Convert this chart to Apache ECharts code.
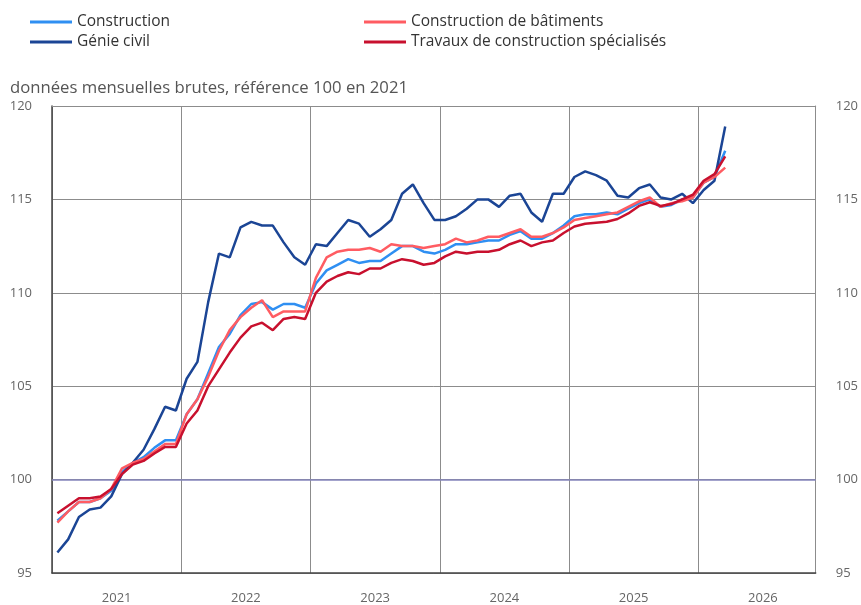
<!DOCTYPE html>
<html>
<head>
<meta charset="utf-8">
<script src="https://cdn.jsdelivr.net/npm/echarts@6/dist/echarts.min.js"></script>
<style>
html,body{margin:0;padding:0;background:#fff;}
#chart{width:861px;height:605px;}
</style>
</head>
<body>
<div id="chart"></div>
<script>
// Months Jan 2021 .. Mar 2026
const months = [];
for (let y = 2021; y <= 2026; y++) {
  for (let m = 1; m <= 12; m++) {
    if (y === 2026 && m > 3) break;
    months.push(y + '-' + String(m).padStart(2, '0'));
  }
}
const yearLabels = ['2021', '2022', '2023', '2024', '2025', '2026'];
const yTicks = [95, 100, 105, 110, 115, 120];

const construction = [
  97.8, 98.3, 98.8, 98.8, 99.0, 99.4, 100.4, 100.9, 101.2, 101.7, 102.1, 102.1,
  103.5, 104.3, 105.7, 107.1, 107.8, 108.8, 109.4, 109.5, 109.1, 109.4, 109.4, 109.2,
  110.5, 111.2, 111.5, 111.8, 111.6, 111.7, 111.7, 112.1, 112.5, 112.5, 112.2, 112.1,
  112.3, 112.6, 112.6, 112.7, 112.8, 112.8, 113.1, 113.3, 112.9, 112.9, 113.2, 113.6,
  114.1, 114.2, 114.2, 114.3, 114.2, 114.5, 114.8, 115.0, 114.6, 114.7, 115.0, 115.1,
  115.9, 116.2, 117.6
];
const genieCivil = [
  96.1, 96.8, 98.0, 98.4, 98.5, 99.1, 100.3, 100.9, 101.6, 102.7, 103.9, 103.7,
  105.4, 106.3, 109.5, 112.1, 111.9, 113.5, 113.8, 113.6, 113.6, 112.7, 111.9, 111.5,
  112.6, 112.5, 113.2, 113.9, 113.7, 113.0, 113.4, 113.9, 115.3, 115.8, 114.8, 113.9,
  113.9, 114.1, 114.5, 115.0, 115.0, 114.6, 115.2, 115.3, 114.3, 113.8, 115.3, 115.3,
  116.2, 116.5, 116.3, 116.0, 115.2, 115.1, 115.6, 115.8, 115.1, 115.0, 115.3, 114.8,
  115.5, 116.0, 118.9
];
const batiments = [
  97.7, 98.3, 98.8, 98.8, 99.0, 99.5, 100.6, 100.9, 101.1, 101.5, 101.9, 101.9,
  103.5, 104.3, 105.5, 106.9, 108.0, 108.7, 109.2, 109.6, 108.7, 109.0, 109.0, 109.0,
  110.8, 111.9, 112.2, 112.3, 112.3, 112.4, 112.2, 112.6, 112.5, 112.5, 112.4, 112.5,
  112.6, 112.9, 112.7, 112.8, 113.0, 113.0, 113.2, 113.4, 113.0, 113.0, 113.2, 113.5,
  113.9, 114.0, 114.1, 114.2, 114.3, 114.6, 114.9, 115.1, 114.6, 114.8, 114.9, 115.1,
  115.9, 116.2, 116.7
];
const travaux = [
  98.2, 98.6, 99.0, 99.0, 99.1, 99.5, 100.3, 100.8, 101.0, 101.4, 101.75, 101.75,
  103.0, 103.7, 105.0, 105.9, 106.8, 107.6, 108.2, 108.4, 108.0, 108.6, 108.7, 108.6,
  110.0, 110.6, 110.9, 111.1, 111.0, 111.3, 111.3, 111.6, 111.8, 111.7, 111.5, 111.6,
  111.95, 112.2, 112.1, 112.2, 112.2, 112.3, 112.6, 112.8, 112.5, 112.7, 112.8, 113.2,
  113.55, 113.7, 113.75, 113.8, 113.95, 114.25, 114.65, 114.85, 114.65, 114.75, 115.0, 115.25,
  116.0, 116.35, 117.3
];

const seriesNames = ['Construction', 'Génie civil', 'Construction de bâtiments', 'Travaux de construction spécialisés'];
const seriesData = [construction, genieCivil, batiments, travaux];
const colors = ['#2f8ff2', '#1b4595', '#ff5c62', '#c8102e'];

function toXY(arr) {
  return arr.map((v, i) => [i + 0.5, v]);
}

const chart = echarts.init(document.getElementById('chart'), null, { renderer: 'canvas' });
const FONT = '"Open Sans", "Noto Sans", sans-serif';
const xMax = 70.9;

const series = seriesData.map((d, k) => ({
  name: seriesNames[k],
  type: 'line',
  data: toXY(d),
  showSymbol: false,
  symbol: 'none',
  lineStyle: { width: 2.5, color: colors[k] },
  itemStyle: { color: colors[k] },
  z: 3 + k,
  animation: false
}));
series[0].markLine = {
  silent: true,
  symbol: 'none',
  label: { show: false },
  lineStyle: { color: '#8585bb', width: 1.5, type: 'solid' },
  data: [{ yAxis: 100 }],
  z: 2
};

const legendStyle = { fontSize: 15.5, color: '#333', fontFamily: FONT };

chart.setOption({
  animation: false,
  textStyle: { fontFamily: FONT },
  title: {
    text: 'données mensuelles brutes, référence 100 en 2021',
    left: 5, top: 75,
    textStyle: { fontSize: 16.7, fontWeight: 'normal', color: '#555', fontFamily: FONT }
  },
  legend: [
    {
      data: [seriesNames[0], seriesNames[1]],
      orient: 'vertical', left: 25, top: 9,
      itemWidth: 42, itemHeight: 3, itemGap: 4,
      icon: 'rect', textStyle: legendStyle
    },
    {
      data: [seriesNames[2], seriesNames[3]],
      orient: 'vertical', left: 359, top: 9,
      itemWidth: 42, itemHeight: 3, itemGap: 4,
      icon: 'rect', textStyle: legendStyle
    }
  ],
  grid: { left: 52, right: 43, top: 106, bottom: 31, containLabel: false },
  xAxis: [
    {
      type: 'value', min: 0, max: xMax, interval: 6,
      axisLine: { show: true, onZero: false, lineStyle: { color: '#444', width: 1.5 } },
      axisTick: { show: false },
      splitLine: { show: false },
      axisLabel: {
        margin: 19, fontSize: 13, color: '#666', fontFamily: FONT,
        showMinLabel: true, showMaxLabel: false,
        formatter: function (v) {
          if (Math.round(v) % 12 === 6) return yearLabels[(Math.round(v) - 6) / 12] || '';
          return '';
        }
      }
    },
    {
      type: 'value', min: 0, max: xMax, interval: 12, position: 'top',
      axisLine: { show: true, onZero: false, lineStyle: { color: '#8c8c8c', width: 1 } },
      axisTick: { show: false },
      axisLabel: { show: false },
      splitLine: { show: true, lineStyle: { color: '#8c8c8c', width: 1 } }
    }
  ],
  yAxis: [
    {
      type: 'value', min: yTicks[0], max: yTicks[yTicks.length - 1], interval: 5,
      position: 'left',
      axisLine: { show: true, onZero: false, lineStyle: { color: '#444', width: 1.5 } },
      axisTick: { show: false },
      axisLabel: { margin: 20, fontSize: 13, color: '#666', fontFamily: FONT },
      splitLine: { show: true, lineStyle: { color: '#8c8c8c', width: 1 } }
    },
    {
      type: 'value', min: yTicks[0], max: yTicks[yTicks.length - 1], interval: 5,
      position: 'right',
      axisLine: { show: true, onZero: false, lineStyle: { color: '#8c8c8c', width: 1 } },
      axisTick: { show: false },
      axisLabel: { margin: 20, fontSize: 13, color: '#666', fontFamily: FONT },
      splitLine: { show: false }
    }
  ],
  series: series
});
</script>
</body>
</html>
